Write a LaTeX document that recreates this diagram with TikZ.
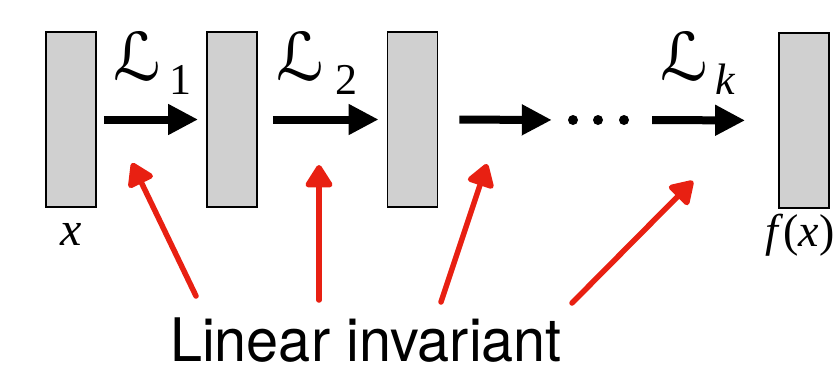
\documentclass[tikz,border=0pt]{standalone}
\usepackage{fontspec}
\setmainfont{Liberation Serif}
\newfontfamily\tms{Liberation Serif}
\newfontfamily\helv{TeX Gyre Heros}
\newfontfamily\scrfont{DejaVu Sans}
\usetikzlibrary{arrows.meta}
\definecolor{boxgray}{RGB}{208,208,208}
\definecolor{pred}{RGB}{232,32,18}
\tikzset{
  layer/.style={draw=black, line width=1.8pt, fill=boxgray, minimum width=50pt, minimum height=175pt, inner sep=0pt},
  flow/.style={line width=8pt, -{Triangle[length=30pt,width=29pt]}},
  hint/.style={draw=pred, line width=5.5pt, line cap=round, -{Triangle[length=25pt,width=30pt,round]}},
  lbl/.style={inner sep=0pt},
  scr/.style={inner sep=0pt, font=\scrfont\fontsize{66}{66}\selectfont},
}
\begin{document}
\begin{tikzpicture}[x=1pt,y=-1pt]
\useasboundingbox (0,0) rectangle (840,368);
% layers
\node[layer] (b1) at (71,119.5) {};
\node[layer] (b2) at (232,119.5) {};
\node[layer] (b3) at (412.5,119.5) {};
\node[layer] (b4) at (804,120.5) {};
% dots
\node[inner sep=0pt, minimum width=66pt, minimum height=10pt] (dots) at (598,120) {};
\fill ([xshift=-25pt]dots.center) circle (5pt);
\fill (dots.center) circle (5pt);
\fill ([xshift=26pt]dots.center) circle (5pt);
% black arrows
\draw[flow, shorten <=7pt, shorten >=8pt] (b1.east) -- (b2.west);
\draw[flow, shorten <=15pt, shorten >=8pt] (b2.east) -- (b3.west);
\draw[flow, shorten <=21pt, shorten >=13pt] (b3.east) -- (dots.west);
\draw[flow, shorten <=21pt, shorten >=33pt] (dots.east) -- (b4.west);
% labels
\node[scr] (L1) at (137.5,56.5) {ℒ};
\node[lbl, font=\tms\fontsize{44}{44}\selectfont] (s1) at (180,80) {1};
\node[scr] (L2) at (300,56.5) {ℒ};
\node[lbl, font=\tms\fontsize{44}{44}\selectfont] (s2) at (346,80) {2};
\node[scr] (Lk) at (684,56.5) {ℒ};
\node[lbl, font=\tms\itshape\fontsize{44}{44}\selectfont] (sk) at (725,79) {k};
\node[lbl, font=\tms\itshape\fontsize{48}{48}\selectfont] (xl) at (71,234) {x};
\node[lbl, font=\tms\fontsize{46}{46}\selectfont] (fl) at (800,235) {\textit{f}(\textit{x})};
% bottom text
\node[inner sep=0pt, anchor=base, xscale=0.96, font=\helv\fontsize{60}{60}\selectfont] (inv) at (366,361) {Linear invariant};
% red arrows
\coordinate (t1) at (196,296); \coordinate (h1) at (132,163);
\coordinate (t2) at (319,300); \coordinate (h2) at (319,165);
\coordinate (t3) at (441,302); \coordinate (h3) at (487,164);
\coordinate (t4) at (572,303); \coordinate (h4) at (693,181);
\draw[hint] (t1) -- (h1);
\draw[hint] (t2) -- (h2);
\draw[hint] (t3) -- (h3);
\draw[hint] (t4) -- (h4);
\end{tikzpicture}
\end{document}
